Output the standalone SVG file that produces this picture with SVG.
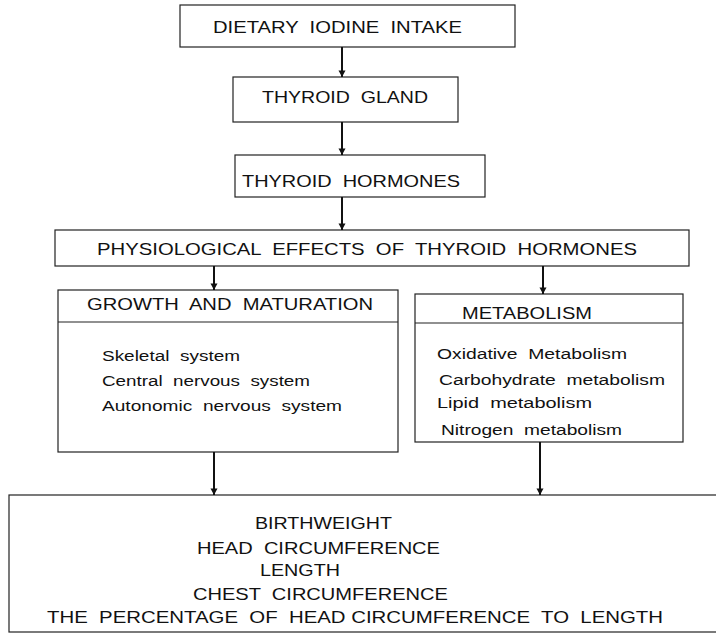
<svg xmlns="http://www.w3.org/2000/svg" width="716" height="633" viewBox="0 0 716 633" xml:space="preserve">
<style>
.box{fill:#fff;stroke:#222;stroke-width:1.2}
.div{stroke:#222;stroke-width:1.1}
.t{font-family:"Liberation Sans",Arial,sans-serif;font-size:16.5px;fill:#111;white-space:pre}
.s{font-family:"Liberation Sans",Arial,sans-serif;font-size:14px;fill:#111;white-space:pre}
.c{stroke:#111;stroke-width:2;fill:none;marker-end:url(#ah)}
</style>
<defs>
<marker id="ah" markerWidth="8" markerHeight="8" refX="7" refY="4" orient="auto" markerUnits="userSpaceOnUse">
<path d="M0.5,0.5 L7,4 L0.5,7.5 Z" fill="#111"/>
</marker>
</defs>
<rect width="716" height="633" fill="#fff"/>
<g id="n1">
<rect class="box" x="180" y="5" width="335" height="42"/>
<text class="t" x="213" y="33" textLength="249" lengthAdjust="spacingAndGlyphs">DIETARY  IODINE  INTAKE</text>
</g>
<g id="n2">
<rect class="box" x="233" y="77" width="225" height="45"/>
<text class="t" x="262" y="103" textLength="166" lengthAdjust="spacingAndGlyphs">THYROID  GLAND</text>
</g>
<g id="n3">
<rect class="box" x="235" y="155" width="250" height="42"/>
<text class="t" x="242" y="187" textLength="218" lengthAdjust="spacingAndGlyphs">THYROID  HORMONES</text>
</g>
<g id="n4">
<rect class="box" x="55" y="230" width="634" height="36"/>
<text class="t" x="97" y="255" textLength="540" lengthAdjust="spacingAndGlyphs">PHYSIOLOGICAL  EFFECTS  OF  THYROID  HORMONES</text>
</g>
<g id="n5">
<rect class="box" x="58" y="290" width="340" height="162"/>
<line class="div" x1="58" y1="322" x2="398" y2="322"/>
<text class="t" x="87" y="310" textLength="286" lengthAdjust="spacingAndGlyphs">GROWTH  AND  MATURATION</text>
<text class="s" x="102" y="361" textLength="138" lengthAdjust="spacingAndGlyphs">Skeletal  system</text>
<text class="s" x="102" y="386" textLength="208" lengthAdjust="spacingAndGlyphs">Central  nervous  system</text>
<text class="s" x="102" y="411" textLength="240" lengthAdjust="spacingAndGlyphs">Autonomic  nervous  system</text>
</g>
<g id="n6">
<rect class="box" x="415" y="294" width="268" height="148"/>
<line class="div" x1="415" y1="323" x2="683" y2="323"/>
<text class="t" x="462" y="319" textLength="130" lengthAdjust="spacingAndGlyphs">METABOLISM</text>
<text class="s" x="437" y="359" textLength="190" lengthAdjust="spacingAndGlyphs">Oxidative  Metabolism</text>
<text class="s" x="439" y="385" textLength="226" lengthAdjust="spacingAndGlyphs">Carbohydrate  metabolism</text>
<text class="s" x="437" y="408" textLength="155" lengthAdjust="spacingAndGlyphs">Lipid  metabolism</text>
<text class="s" x="441" y="435" textLength="181" lengthAdjust="spacingAndGlyphs">Nitrogen  metabolism</text>
</g>
<g id="n7">
<rect class="box" x="9" y="495" width="720" height="137"/>
<text class="t" x="255" y="529" textLength="137" lengthAdjust="spacingAndGlyphs">BIRTHWEIGHT</text>
<text class="t" x="197" y="554" textLength="243" lengthAdjust="spacingAndGlyphs">HEAD  CIRCUMFERENCE</text>
<text class="t" x="260" y="576" textLength="80" lengthAdjust="spacingAndGlyphs">LENGTH</text>
<text class="t" x="193" y="600" textLength="255" lengthAdjust="spacingAndGlyphs">CHEST  CIRCUMFERENCE</text>
<text class="t" x="47" y="623" textLength="616" lengthAdjust="spacingAndGlyphs">THE  PERCENTAGE  OF  HEAD CIRCUMFERENCE  TO  LENGTH</text>
</g>
<g id="connectors">
<line class="c" x1="342" y1="47" x2="342" y2="77"/>
<line class="c" x1="342" y1="122" x2="342" y2="155"/>
<line class="c" x1="342" y1="197" x2="342" y2="230"/>
<line class="c" x1="214" y1="266" x2="214" y2="290"/>
<line class="c" x1="543" y1="266" x2="543" y2="294"/>
<line class="c" x1="214" y1="452" x2="214" y2="495"/>
<line class="c" x1="540" y1="442" x2="540" y2="495"/>
</g>
</svg>
